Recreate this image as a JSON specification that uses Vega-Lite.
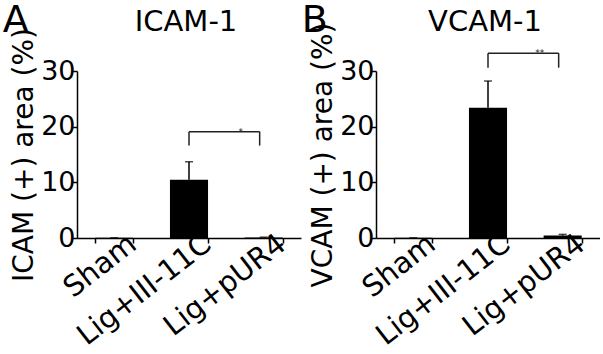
{
  "$schema": "https://vega.github.io/schema/vega-lite/v6.json",
  "padding": {"left": 2, "top": 2, "right": 0, "bottom": 0},
  "spacing": 0,
  "config": {
    "font": "DejaVu Sans",
    "view": {"stroke": null},
    "axis": {
      "domainColor": "black", "tickColor": "black", "labelColor": "black", "titleColor": "black",
      "domainWidth": 1.5, "tickWidth": 1.5, "grid": false, "labelOverlap": false, "labelFlush": false,
      "labelFont": "DejaVu Sans", "titleFont": "DejaVu Sans", "titleFontWeight": "normal"
    },
    "title": {"color": "black", "fontWeight": "normal", "font": "DejaVu Sans"}
  },
  "datasets": {
    "bars": [
      {"panel": "A", "group": "Sham", "value": 0.05, "upper": 0.05},
      {"panel": "A", "group": "Lig+III-11C", "value": 10.45, "upper": 13.7},
      {"panel": "A", "group": "Lig+pUR4", "value": 0.1, "upper": 0.15},
      {"panel": "B", "group": "Sham", "value": 0.05, "upper": 0.05},
      {"panel": "B", "group": "Lig+III-11C", "value": 23.4, "upper": 28.2},
      {"panel": "B", "group": "Lig+pUR4", "value": 0.45, "upper": 0.65}
    ],
    "brackets": [
      {"panel": "A", "x1": "Lig+III-11C", "x2": "Lig+pUR4", "top": 19.1, "bottom": 16.6, "label": "*"},
      {"panel": "B", "x1": "Lig+III-11C", "x2": "Lig+pUR4", "top": 33.2, "bottom": 30.6, "label": "**"}
    ],
    "titles": [
      {"panel": "A", "title": "ICAM-1"},
      {"panel": "B", "title": "VCAM-1"}
    ]
  },
  "hconcat": [
    {
      "width": 224, "height": 167,
      "title": {"text": "A", "anchor": "start", "frame": "bounds", "fontSize": 38, "baseline": "alphabetic", "offset": -62, "dx": -8},
      "data": {"name": "bars"},
      "transform": [{"filter": "datum.panel === 'A'"}],
      "layer": [
        {
          "mark": {"type": "bar", "color": "black"},
          "encoding": {
            "x": {"field": "group", "type": "nominal", "sort": null,
              "scale": {"domain": ["Sham", "Lig+III-11C", "Lig+pUR4"], "paddingInner": 0.49, "paddingOuter": 0.245},
              "axis": {"title": null, "labelAngle": -38, "labelFontSize": 29, "labelAlign": "right", "labelBaseline": "middle", "labelOverlap": false, "tickBand": "extent", "tickSize": 5, "labelPadding": -3, "labelOffset": 18}},
            "y": {"field": "value", "type": "quantitative", "scale": {"domain": [0, 30]},
              "axis": {"values": [0, 10, 20, 30], "labelOverlap": false, "tickSize": 5,
                "title": "ICAM (+) area (%)", "titleFontSize": 28, "labelFontSize": 27, "labelPadding": -3, "titlePadding": 2}}
          }
        },
        {
          "mark": {"type": "rule", "color": "black", "strokeWidth": 1.5},
          "encoding": {
            "x": {"field": "group", "type": "nominal", "sort": null},
            "y": {"field": "value", "type": "quantitative"},
            "y2": {"field": "upper"}
          }
        },
        {
          "mark": {"type": "tick", "color": "black", "thickness": 1.5, "size": 8},
          "encoding": {
            "x": {"field": "group", "type": "nominal", "sort": null},
            "y": {"field": "upper", "type": "quantitative"}
          }
        },
        {
          "data": {"name": "brackets"},
          "transform": [{"filter": "datum.panel === 'A'"}],
          "mark": {"type": "rule", "color": "#222", "strokeWidth": 1.5, "x2Offset": -4},
          "encoding": {
            "x": {"field": "x1", "type": "nominal"},
            "x2": {"field": "x2"},
            "y": {"field": "top", "type": "quantitative"}
          }
        },
        {
          "data": {"name": "brackets"},
          "transform": [{"filter": "datum.panel === 'A'"}],
          "mark": {"type": "rule", "color": "#222", "strokeWidth": 1.5},
          "encoding": {
            "x": {"field": "x1", "type": "nominal"},
            "y": {"field": "bottom", "type": "quantitative"},
            "y2": {"field": "top"}
          }
        },
        {
          "data": {"name": "brackets"},
          "transform": [{"filter": "datum.panel === 'A'"}],
          "mark": {"type": "rule", "color": "#222", "strokeWidth": 1.5, "xOffset": -4},
          "encoding": {
            "x": {"field": "x2", "type": "nominal"},
            "y": {"field": "bottom", "type": "quantitative"},
            "y2": {"field": "top"}
          }
        },
        {
          "data": {"name": "brackets"},
          "transform": [{"filter": "datum.panel === 'A'"}],
          "mark": {"type": "text", "fontSize": 9, "baseline": "alphabetic", "dx": -4, "dy": 3, "color": "#222"},
          "encoding": {
            "x": {"field": "x2", "type": "nominal", "bandPosition": 0},
            "y": {"field": "top", "type": "quantitative"},
            "text": {"field": "label"}
          }
        },
        {
          "data": {"name": "titles"},
          "transform": [{"filter": "datum.panel === 'A'"}],
          "mark": {"type": "text", "fontSize": 29, "baseline": "alphabetic", "dx": -3, "color": "black"},
          "encoding": {
            "x": {"datum": "Lig+III-11C", "type": "nominal"},
            "y": {"datum": 37.1, "type": "quantitative"},
            "text": {"field": "title"}
          }
        }
      ]
    },
    {
      "width": 224, "height": 167,
      "title": {"text": "B", "anchor": "start", "frame": "bounds", "fontSize": 38, "baseline": "alphabetic", "offset": -62, "dx": -8},
      "data": {"name": "bars"},
      "transform": [{"filter": "datum.panel === 'B'"}],
      "layer": [
        {
          "mark": {"type": "bar", "color": "black"},
          "encoding": {
            "x": {"field": "group", "type": "nominal", "sort": null,
              "scale": {"domain": ["Sham", "Lig+III-11C", "Lig+pUR4"], "paddingInner": 0.49, "paddingOuter": 0.245},
              "axis": {"title": null, "labelAngle": -38, "labelFontSize": 29, "labelAlign": "right", "labelBaseline": "middle", "labelOverlap": false, "tickBand": "extent", "tickSize": 5, "labelPadding": -3, "labelOffset": 18}},
            "y": {"field": "value", "type": "quantitative", "scale": {"domain": [0, 30]},
              "axis": {"values": [0, 10, 20, 30], "labelOverlap": false, "tickSize": 5,
                "title": "VCAM (+) area (%)", "titleFontSize": 28, "labelFontSize": 27, "labelPadding": -3, "titlePadding": 2}}
          }
        },
        {
          "mark": {"type": "rule", "color": "black", "strokeWidth": 1.5},
          "encoding": {
            "x": {"field": "group", "type": "nominal", "sort": null},
            "y": {"field": "value", "type": "quantitative"},
            "y2": {"field": "upper"}
          }
        },
        {
          "mark": {"type": "tick", "color": "black", "thickness": 1.5, "size": 8},
          "encoding": {
            "x": {"field": "group", "type": "nominal", "sort": null},
            "y": {"field": "upper", "type": "quantitative"}
          }
        },
        {
          "data": {"name": "brackets"},
          "transform": [{"filter": "datum.panel === 'B'"}],
          "mark": {"type": "rule", "color": "#222", "strokeWidth": 1.5, "x2Offset": -4},
          "encoding": {
            "x": {"field": "x1", "type": "nominal"},
            "x2": {"field": "x2"},
            "y": {"field": "top", "type": "quantitative"}
          }
        },
        {
          "data": {"name": "brackets"},
          "transform": [{"filter": "datum.panel === 'B'"}],
          "mark": {"type": "rule", "color": "#222", "strokeWidth": 1.5},
          "encoding": {
            "x": {"field": "x1", "type": "nominal"},
            "y": {"field": "bottom", "type": "quantitative"},
            "y2": {"field": "top"}
          }
        },
        {
          "data": {"name": "brackets"},
          "transform": [{"filter": "datum.panel === 'B'"}],
          "mark": {"type": "rule", "color": "#222", "strokeWidth": 1.5, "xOffset": -4},
          "encoding": {
            "x": {"field": "x2", "type": "nominal"},
            "y": {"field": "bottom", "type": "quantitative"},
            "y2": {"field": "top"}
          }
        },
        {
          "data": {"name": "brackets"},
          "transform": [{"filter": "datum.panel === 'B'"}],
          "mark": {"type": "text", "fontSize": 9, "baseline": "alphabetic", "dx": -4, "dy": 3, "color": "#222"},
          "encoding": {
            "x": {"field": "x2", "type": "nominal", "bandPosition": 0},
            "y": {"field": "top", "type": "quantitative"},
            "text": {"field": "label"}
          }
        },
        {
          "data": {"name": "titles"},
          "transform": [{"filter": "datum.panel === 'B'"}],
          "mark": {"type": "text", "fontSize": 29, "baseline": "alphabetic", "dx": -3, "color": "black"},
          "encoding": {
            "x": {"datum": "Lig+III-11C", "type": "nominal"},
            "y": {"datum": 37.1, "type": "quantitative"},
            "text": {"field": "title"}
          }
        }
      ]
    }
  ]
}
